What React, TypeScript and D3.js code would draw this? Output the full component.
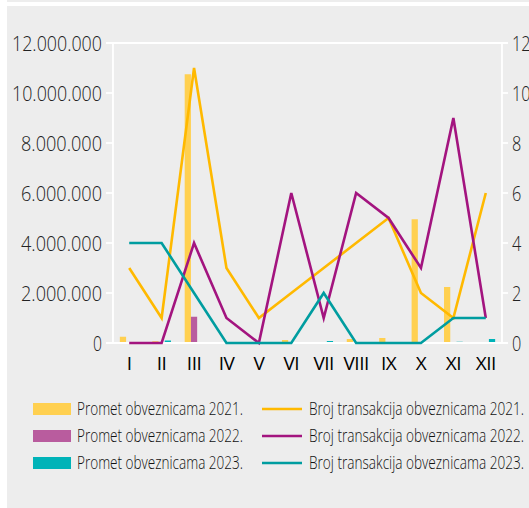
import React from "react";
import * as d3 from "d3";

// months on the x axis
const months = ["I", "II", "III", "IV", "V", "VI", "VII", "VIII", "IX", "X", "XI", "XII"];

// bond turnover (left axis)
const promet2021 = [250000, 70000, 10750000, 30000, 0, 120000, 0, 160000, 200000, 4950000, 2240000, 0];
const promet2022 = [0, 0, 1050000, 0, 0, 0, 20000, 0, 0, 0, 0, 10000];
const promet2023 = [40000, 100000, 30000, 0, 0, 0, 80000, 0, 0, 0, 50000, 160000];

// number of transactions (right axis)
const broj2021 = [3, 1, 11, 3, 1, 2, 3, 4, 5, 2, 1, 6];
const broj2022 = [0, 0, 4, 1, 0, 6, 1, 6, 5, 3, 9, 1];
const broj2023 = [4, 4, 2, 0, 0, 0, 2, 0, 0, 0, 1, 1];

const leftTicks = [0, 2000000, 4000000, 6000000, 8000000, 10000000, 12000000];
const rightTicks = [0, 2, 4, 6, 8, 10, 12];

const barColors = ["#FFD050", "#B95C9E", "#00B3B8"];
const lineColors = ["#FFB900", "#A3147F", "#009DA0"];
const barLabels = ["Promet obveznicama 2021.", "Promet obveznicama 2022.", "Promet obveznicama 2023."];
const lineLabels = [
  "Broj transakcija obveznicama 2021.",
  "Broj transakcija obveznicama 2022.",
  "Broj transakcija obveznicama 2023.",
];

const font = "'Open Sans', 'DejaVu Sans', sans-serif";
const fmt = (v: number) => d3.format(",")(v).replace(/,/g, ".");

export default function App() {
  const W = 529, H = 508;
  const left = 113, right = 502, top = 43, bottom = 343;

  const x = d3.scaleBand().domain(months).range([left, right]);
  const x1 = d3.scaleBand().domain(["0", "1", "2"]).range([0, x.bandwidth()]).paddingOuter(1.1);
  const yL = d3.scaleLinear().domain([0, 12000000]).range([bottom, top]);
  const yR = d3.scaleLinear().domain([0, 12]).range([bottom, top]);

  const barSeries = [promet2021, promet2022, promet2023];
  const lineSeries = [broj2021, broj2022, broj2023];
  const line = d3.line<number>()
    .x((_, i) => (x(months[i]) as number) + x.bandwidth() / 2)
    .y(d => yR(d));

  return (
    <svg width={W} height={H} style={{ position: "absolute", left: 0, top: 0 }} fontFamily={font} fontWeight={300}>
      <rect x={0} y={0} width={W} height={H} fill="#fff" />
      <rect x={7} y={0} width={W - 7} height={2} fill="#ededed" />
      <rect x={7} y={6} width={W - 7} height={H - 6} fill="#ededed" />

      {/* axes */}
      <g stroke="#fff" strokeWidth={1.8}>
        <line x1={left} x2={left} y1={top} y2={bottom} />
        <line x1={right} x2={right} y1={top} y2={bottom} />
        <line x1={left - 7} x2={right + 6} y1={top} y2={top} />
        {leftTicks.map(t => (
          <line key={"l" + t} x1={left - 7} x2={left} y1={yL(t)} y2={yL(t)} />
        ))}
        {rightTicks.map(t => (
          <line key={"r" + t} x1={right} x2={right + 6} y1={yR(t)} y2={yR(t)} />
        ))}
      </g>

      {leftTicks.map(t => (
        <text key={"lt" + t} x={102} y={yL(t)} dy="0.36em" textAnchor="end" fontSize={21} fill="#222"
          textLength={fmt(t).length * 9} lengthAdjust="spacingAndGlyphs">
          {fmt(t)}
        </text>
      ))}
      {rightTicks.map(t => (
        <text key={"rt" + t} x={512} y={yR(t)} dy="0.36em" fontSize={21} fill="#222"
          textLength={String(t).length * 9.3} lengthAdjust="spacingAndGlyphs">
          {t}
        </text>
      ))}
      {months.map(m => (
        <text key={m} x={(x(m) as number) + x.bandwidth() / 2} y={370} textAnchor="middle" fontSize={19}
          fill="#000" fontWeight={400} letterSpacing={-0.5}>
          {m}
        </text>
      ))}

      {/* bars */}
      {barSeries.map((s, si) => (
        <g key={"b" + si} fill={barColors[si]}>
          {s.map((v, i) => (
            <rect
              key={i}
              x={(x(months[i]) as number) + (x1(String(si)) as number)}
              width={x1.bandwidth()}
              y={yL(v)}
              height={bottom - yL(v)}
            />
          ))}
        </g>
      ))}

      <line x1={left - 7} x2={right + 6} y1={bottom} y2={bottom} stroke="#fff" strokeWidth={1.8} />

      {/* lines */}
      {lineSeries.map((s, si) => (
        <path key={"p" + si} d={line(s) as string} fill="none" stroke={lineColors[si]} strokeWidth={2.6} />
      ))}

      {/* legend */}
      {barLabels.map((l, i) => (
        <g key={"lb" + i} transform={`translate(0,${409 + i * 27})`}>
          <rect x={33} y={-6} width={38} height={12} fill={barColors[i]} />
          <text x={77} y={0} dy="0.36em" fontSize={17.5} fill="#111" textLength={166} lengthAdjust="spacingAndGlyphs">{l}</text>
        </g>
      ))}
      {lineLabels.map((l, i) => (
        <g key={"ll" + i} transform={`translate(0,${409 + i * 27})`}>
          <line x1={262} x2={302} y1={0} y2={0} stroke={lineColors[i]} strokeWidth={2.6} />
          <text x={309} y={0} dy="0.36em" fontSize={17.5} fill="#111" textLength={215} lengthAdjust="spacingAndGlyphs">{l}</text>
        </g>
      ))}
    </svg>
  );
}
